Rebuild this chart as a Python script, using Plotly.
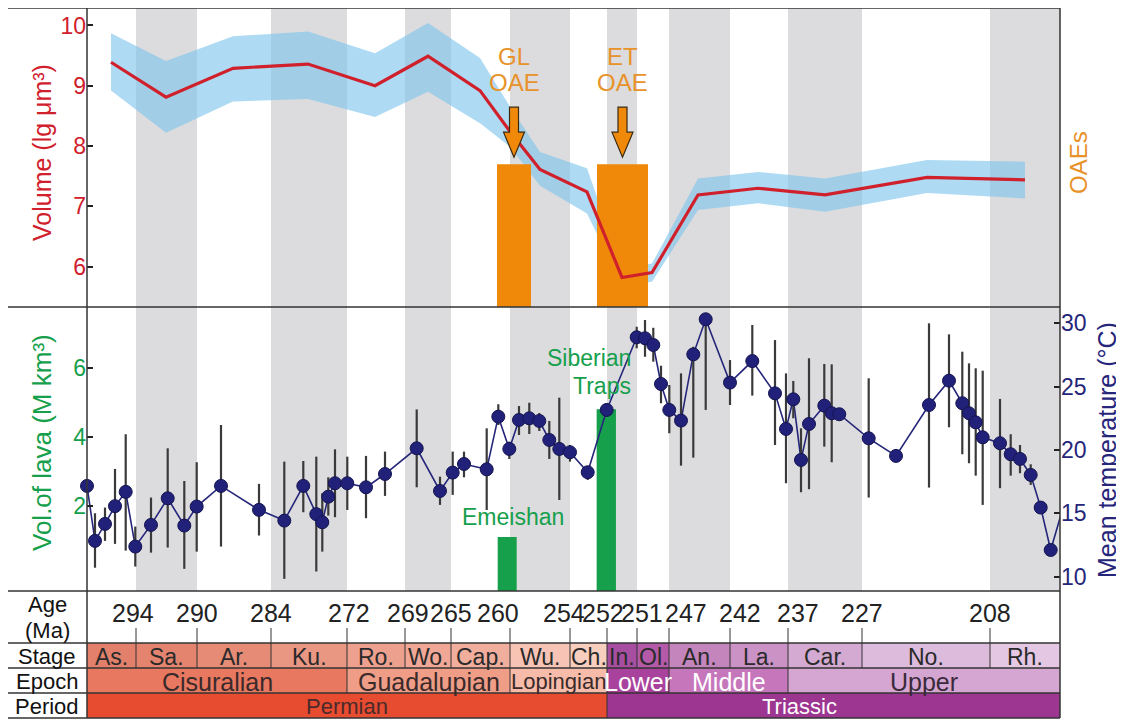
import plotly.graph_objects as go

# ---------------- geologic time scale (x = position along stage-based axis) ----------------
stage_names = ["As.", "Sa.", "Ar.", "Ku.", "Ro.", "Wo.", "Cap.", "Wu.", "Ch.",
               "In.", "Ol.", "An.", "La.", "Car.", "No.", "Rh."]
stage_edges = [0, 49, 110, 184, 260, 318, 364, 423, 483, 520, 550, 582, 643, 701, 775, 903, 973]
stage_colors = ["#e3806b", "#e4846f", "#e68b76", "#e99682", "#eea08e", "#f0a795", "#f2ae9d",
                "#f6c3b5", "#f8cebf", "#a84ea0", "#b45aa8", "#c485bd", "#cb92c6", "#d4aad2",
                "#dcbbdc", "#e4c8e3"]
age_labels = ["294", "290", "284", "272", "269", "265", "260", "254", "252", "251",
              "247", "242", "237", "227", "208"]
age_shift = [-3, 0, 0, 2, 3, 0, -12, -6, -4, 5, 17, 10, 10, 0, 0]

epoch_names = ["Cisuralian", "Guadalupian", "Lopingian", "Lower", "Middle", "Upper"]
epoch_edges = [0, 260, 423, 520, 582, 701, 973]
epoch_colors = ["#e8785f", "#ef9d87", "#f6bca9", "#a9429d", "#c677bc", "#d6a6d2"]
epoch_text = ["#3a2a2a", "#3a2a2a", "#3a2a2a", "#ffffff", "#ffffff", "#3a2a3a"]

period_names = ["Permian", "Triassic"]
period_edges = [0, 520, 973]
period_colors = ["#e74c30", "#9d3691"]
period_text = ["#4a2a2a", "#ffffff"]

# ---------------- top panel: volume (lg µm^3) ----------------
vol_pos = [24, 79, 146, 221, 288, 341, 393, 423, 453, 500, 535, 565, 611, 671, 738, 840, 938]
vol_mid = [9.39, 8.81, 9.29, 9.36, 9.00, 9.49, 8.92, 8.24, 7.61, 7.24, 5.82, 5.90, 7.19, 7.30, 7.19, 7.48, 7.44]
vol_hi = [9.87, 9.41, 9.82, 9.90, 9.54, 10.04, 9.46, 8.65, 7.90, 7.63, 5.97, 6.05, 7.46, 7.57, 7.46, 7.77, 7.74]
vol_lo = [8.92, 8.22, 8.74, 8.78, 8.48, 8.90, 8.38, 7.99, 7.34, 6.88, 5.69, 5.75, 6.94, 7.05, 6.91, 7.22, 7.13]

oae_names = ["GL", "ET"]
oae_pos = [427, 535.5]
oae_width = [34, 51]
oae_top = [7.70, 7.70]

# ---------------- bottom panel: lava volume and mean temperature ----------------
lava_names = ["Emeishan", "Siberian Traps"]
lava_pos = [420.2, 519.3]
lava_width = [19, 19.3]
lava_top = [1.1, 4.8]

temp_pos = [0, 8, 18, 28, 38.7, 48.3, 64, 80.7, 97.3, 109.7, 134, 172, 197.3, 216.3, 229.3,
            235.3, 241.3, 248, 260.3, 279, 298, 329.7, 353, 365.7, 377, 399.7, 411.3, 422.3,
            432, 442.3, 452.3, 462.3, 472.3, 483, 500.7, 519.7, 549.7, 558, 566.3, 574, 582.3,
            594, 606.3, 618.7, 643, 665.3, 688, 699, 706.3, 714, 722, 737.3, 744.7, 752.3,
            781.7, 809, 842, 862, 875.3, 882, 888.7, 895.7, 913, 923.7, 933, 943.7, 953.7, 963.7]
temp_val = [17.16, 12.82, 14.16, 15.56, 16.69, 12.37, 14.08, 16.18, 14.03, 15.53, 17.16, 15.27,
            14.42, 17.16, 14.93, 14.29, 16.31, 17.37, 17.37, 17.05, 18.1, 20.13, 16.76, 18.21,
            18.89, 18.47, 22.63, 20.08, 22.37, 22.5, 22.29, 20.79, 20.08, 19.82, 18.24, 23.16,
            28.9, 28.82, 28.29, 25.21, 23.16, 22.32, 27.55, 30.32, 25.32, 27.02, 24.47, 21.66,
            24.0, 19.21, 22.05, 23.5, 22.9, 22.82, 20.92, 19.53, 23.55, 25.47, 23.69, 22.9,
            22.18, 21.0, 20.53, 19.66, 19.29, 18.03, 15.45, 12.1]
temp_hi = [17.16, 15.0, 15.45, 18.5, 21.24, 13.95, 16.24, 20.13, 17.55, 19.03, 21.97, 17.32,
           19.08, 19.13, 19.47, 16.58, 17.84, 20.05, 19.47, 19.53, 19.87, 23.2, 17.89, 19.87,
           19.87, 21.71, 23.61, 20.66, 23.47, 23.73, 22.92, 22.29, 24.13, 20.39, 18.68, 23.69,
           29.73, 30.26, 29.65, 26.65, 25.13, 26.05, 28.15, 30.32, 27.1, 29.87, 28.68, 26.05,
           25.45, 21.71, 27.24, 26.79, 26.76, 22.82, 25.66, 19.53, 30.0, 29.13, 27.76, 26.84,
           26.45, 26.26, 24.03, 21.24, 20.39, 18.87, 15.45, 12.1]
temp_lo = [17.16, 10.7, 12.82, 12.58, 12.05, 10.79, 11.89, 12.29, 10.61, 11.97, 12.37, 13.24,
           9.82, 15.08, 10.4, 11.97, 14.82, 14.69, 15.26, 14.61, 16.37, 17.05, 15.66, 16.45,
           17.84, 15.26, 21.97, 19.29, 21.18, 21.26, 21.5, 19.29, 16.05, 19.08, 17.63, 22.63,
           28.03, 27.36, 26.97, 23.69, 21.32, 18.76, 19.39, 23.16, 23.55, 24.29, 20.39, 17.37,
           22.5, 16.66, 16.9, 20.26, 19.03, 22.82, 16.24, 19.53, 17.03, 21.79, 19.66, 18.95,
           17.97, 15.66, 16.98, 17.97, 18.16, 17.24, 15.45, 12.1]
# the series continues just beyond the right frame (only its line is visible)
temp_next_pos = [980]
temp_next_val = [16.5]

# ---------------- layout constants (page pixels; page body has an 8px margin) ----------------
FONT = "Liberation Sans, Arial, sans-serif"
OFF = 8
PL, PR, PT, PB = 87, 1060, 8, 718          # plot area in page pixels
FW, FH = 1124 - OFF, 721 - OFF             # figure size
ML, MR, MT, MB = PL - OFF, 1124 - PR, PT - OFF, FH + OFF - PB
PW, PH = PR - PL, PB - PT


def py(ypx):  # page row -> paper fraction
    return (PB - ypx) / PH


def px(xpx):  # page column -> paper fraction
    return (xpx - PL) / PW


Y_TOP = [py(307), 1.0]
Y_BOT = [py(591), py(307)]
Y_AGE = [py(643), py(591)]
Y_STG = [py(668), py(643)]
Y_EPO = [py(693), py(668)]
Y_PER = [0.0, py(693)]
X_LEFT = px(7)

vol_range = [5.33, 10.29]
lava_range = [-0.46, 7.76]
temp_range = [8.86, 31.29]

RED = "#d0202c"
GREEN = "#16a04c"
NAVY = "#25257a"
ORANGE = "#f0890a"
ORANGE_TXT = "#e8922a"
LINE = "#333333"

fig = go.Figure()

# band (under the OAE bars)
fig.add_trace(go.Scatter(x=vol_pos, y=vol_lo, mode="lines", line=dict(width=0),
                         hoverinfo="skip", showlegend=False, xaxis="x", yaxis="y"))
fig.add_trace(go.Scatter(x=vol_pos, y=vol_hi, mode="lines", line=dict(width=0),
                         fill="tonexty", fillcolor="rgba(125,197,236,0.62)",
                         showlegend=False, xaxis="x", yaxis="y"))
# OAE bars and red volume curve on overlay axis
fig.add_trace(go.Bar(x=oae_pos, y=[t - vol_range[0] for t in oae_top], base=vol_range[0],
                     width=oae_width, marker=dict(color=ORANGE, line=dict(width=0)),
                     showlegend=False, xaxis="x", yaxis="y4"))
fig.add_trace(go.Scatter(x=vol_pos, y=vol_mid, mode="lines", line=dict(color=RED, width=3.2),
                         showlegend=False, xaxis="x", yaxis="y4"))

# lava bars
fig.add_trace(go.Bar(x=lava_pos, y=[t - lava_range[0] for t in lava_top], base=lava_range[0],
                     width=lava_width, marker=dict(color=GREEN, line=dict(width=0)),
                     showlegend=False, xaxis="x", yaxis="y2"))
# temperature
fig.add_trace(go.Scatter(x=temp_pos + temp_next_pos, y=temp_val + temp_next_val, mode="lines",
                         line=dict(color=NAVY, width=1.6), showlegend=False,
                         xaxis="x", yaxis="y3"))
fig.add_trace(go.Scatter(
    x=temp_pos, y=temp_val, mode="markers",
    marker=dict(color="#22217a", size=13, line=dict(color="#141450", width=1)),
    error_y=dict(type="data", symmetric=False,
                 array=[h - v for h, v in zip(temp_hi, temp_val)],
                 arrayminus=[v - l for v, l in zip(temp_val, temp_lo)],
                 color="#3a3a3a", thickness=2.2, width=0),
    cliponaxis=False, showlegend=False, xaxis="x", yaxis="y3"))

shapes = []
# alternating grey stage bands through both panels
for i in range(1, len(stage_names), 2):
    shapes.append(dict(type="rect", xref="x", yref="paper", x0=stage_edges[i], x1=stage_edges[i + 1],
                       y0=Y_BOT[0], y1=1, fillcolor="#dcdcde", line=dict(width=0), layer="below"))


def cells(edges, colors, yr):
    for i in range(len(edges) - 1):
        shapes.append(dict(type="rect", xref="x", yref="paper", x0=edges[i], x1=edges[i + 1],
                           y0=yr[0], y1=yr[1], fillcolor=colors[i], line=dict(width=0)))
    for e in edges[1:-1]:
        shapes.append(dict(type="line", xref="x", yref="paper", x0=e, x1=e, y0=yr[0], y1=yr[1],
                           line=dict(color=LINE, width=1)))


cells(stage_edges, stage_colors, Y_STG)
cells(epoch_edges, epoch_colors, Y_EPO)
cells(period_edges, period_colors, Y_PER)

# age ticks
for e in stage_edges[1:-1]:
    shapes.append(dict(type="line", xref="x", yref="paper", x0=e, x1=e, y0=Y_AGE[0], y1=py(628),
                       line=dict(color=LINE, width=1)))

# frame lines
for yy in [1.0, Y_TOP[0], Y_BOT[0], Y_AGE[0], Y_STG[0], Y_EPO[0], 0.0]:
    shapes.append(dict(type="line", xref="paper", yref="paper", x0=X_LEFT, x1=1, y0=yy, y1=yy,
                       line=dict(color=LINE, width=1.5)))
for xx in [X_LEFT, 0.0, 1.0]:
    shapes.append(dict(type="line", xref="paper", yref="paper", x0=xx, x1=xx, y0=0, y1=1,
                       line=dict(color=LINE, width=1.5)))

# OAE arrows (built from bar centre / top, pixel-sized)
ppu = (Y_TOP[1] - Y_TOP[0]) * PH / (vol_range[1] - vol_range[0])  # px per unit
for xc, top in zip(oae_pos, oae_top):
    tip = top + 7 / ppu
    hb = top + 32 / ppu
    st = top + 57 / ppu
    path = (f"M {xc-4.5},{st} L {xc+4.5},{st} L {xc+4.5},{hb} L {xc+10.5},{hb} "
            f"L {xc},{tip} L {xc-10.5},{hb} L {xc-4.5},{hb} Z")
    shapes.append(dict(type="path", xref="x", yref="y", path=path, fillcolor=ORANGE,
                       line=dict(color="#3a2a10", width=1.2), layer="above"))

ann = []


def A(**kw):
    kw.setdefault("showarrow", False)
    kw.setdefault("xanchor", "center")
    kw.setdefault("yanchor", "middle")
    ann.append(kw)


# age labels
for e, lab, sh in zip(stage_edges[1:-1], age_labels, age_shift):
    A(x=e, y=py(613), xref="x", yref="paper", text=lab, xshift=sh,
      font=dict(size=25, color="#222222"))
for i, nm in enumerate(stage_names):
    A(x=(stage_edges[i] + stage_edges[i + 1]) / 2, y=sum(Y_STG) / 2, xref="x", yref="paper",
      text=nm, yshift=-1, font=dict(size=23, color="#2a2a2a"))
for i, nm in enumerate(epoch_names):
    A(x=(epoch_edges[i] + epoch_edges[i + 1]) / 2, y=sum(Y_EPO) / 2, xref="x", yref="paper",
      text=nm, yshift=-1, font=dict(size=22 if nm == "Lopingian" else 25, color=epoch_text[i]))
per_shift = [0, -34]
for i, nm in enumerate(period_names):
    A(x=(period_edges[i] + period_edges[i + 1]) / 2, y=sum(Y_PER) / 2, xref="x", yref="paper",
      text=nm, xshift=per_shift[i], yshift=-1, font=dict(size=22, color=period_text[i]))

# left column headers
xl = px(47)
for txt, yy in [("Age", py(603)), ("(Ma)", py(629)), ("Stage", sum(Y_STG) / 2),
                ("Epoch", sum(Y_EPO) / 2), ("Period", sum(Y_PER) / 2)]:
    A(x=xl, y=yy, xref="paper", yref="paper", text=txt, yshift=-1,
      font=dict(size=22, color="#111111"))

# axis titles
A(x=px(42), y=py(153), xref="paper", yref="paper", text="Volume (lg μm³)", textangle=-90,
  font=dict(size=25, color=RED))
A(x=px(42), y=py(443), xref="paper", yref="paper", text="Vol.of lava (M km³)", textangle=-90,
  font=dict(size=26, color=GREEN))
A(x=px(1107), y=py(450), xref="paper", yref="paper", text="Mean temperature (°C)", textangle=-90,
  font=dict(size=25, color=NAVY))
A(x=px(1078), y=py(163), xref="paper", yref="paper", text="OAEs", textangle=-90,
  font=dict(size=24, color=ORANGE_TXT))

# OAE labels
for nm, xc, top in zip(oae_names, oae_pos, oae_top):
    A(x=xc, y=top, xref="x", yref="y", text=nm, yshift=108, font=dict(size=24, color=ORANGE_TXT))
    A(x=xc, y=top, xref="x", yref="y", text="OAE", yshift=82, font=dict(size=24, color=ORANGE_TXT))

# LIP labels
A(x=lava_pos[0], y=lava_top[0], xref="x", yref="y2", text="Emeishan", xshift=6, yshift=20,
  font=dict(size=23, color=GREEN))
A(x=lava_pos[1], y=lava_top[1], xref="x", yref="y2", text="Siberian", xanchor="right",
  xshift=27, yshift=51, font=dict(size=23, color=GREEN))
A(x=lava_pos[1], y=lava_top[1], xref="x", yref="y2", text="Traps", xanchor="right",
  xshift=27, yshift=23, font=dict(size=23, color=GREEN))

axis_common = dict(showgrid=False, zeroline=False, ticks="inside", ticklen=6, tickwidth=1.5,
                   tickcolor="#222222", showline=False)

fig.update_layout(
    width=FW, height=FH, autosize=False,
    margin=dict(l=ML, r=MR, t=MT, b=MB, pad=0),
    paper_bgcolor="white", plot_bgcolor="rgba(0,0,0,0)",
    font=dict(family=FONT),
    barmode="overlay", showlegend=False,
    xaxis=dict(domain=[0, 1], range=[0, stage_edges[-1]], showticklabels=False, ticks="",
               showgrid=False, zeroline=False, showline=False, anchor="y2"),
    yaxis=dict(domain=Y_TOP, range=vol_range, tickvals=[6, 7, 8, 9, 10], anchor="x",
               tickfont=dict(size=23, color=RED), **axis_common),
    yaxis4=dict(overlaying="y", range=vol_range, visible=False, anchor="x"),
    yaxis2=dict(domain=Y_BOT, range=lava_range, tickvals=[2, 4, 6], anchor="x",
                tickfont=dict(size=23, color=GREEN), **axis_common),
    yaxis3=dict(overlaying="y2", side="right", range=temp_range, tickvals=[10, 15, 20, 25, 30],
                anchor="x", tickfont=dict(size=23, color=NAVY), **axis_common),
    shapes=shapes,
    annotations=ann,
)

fig.write_html("out.html")
